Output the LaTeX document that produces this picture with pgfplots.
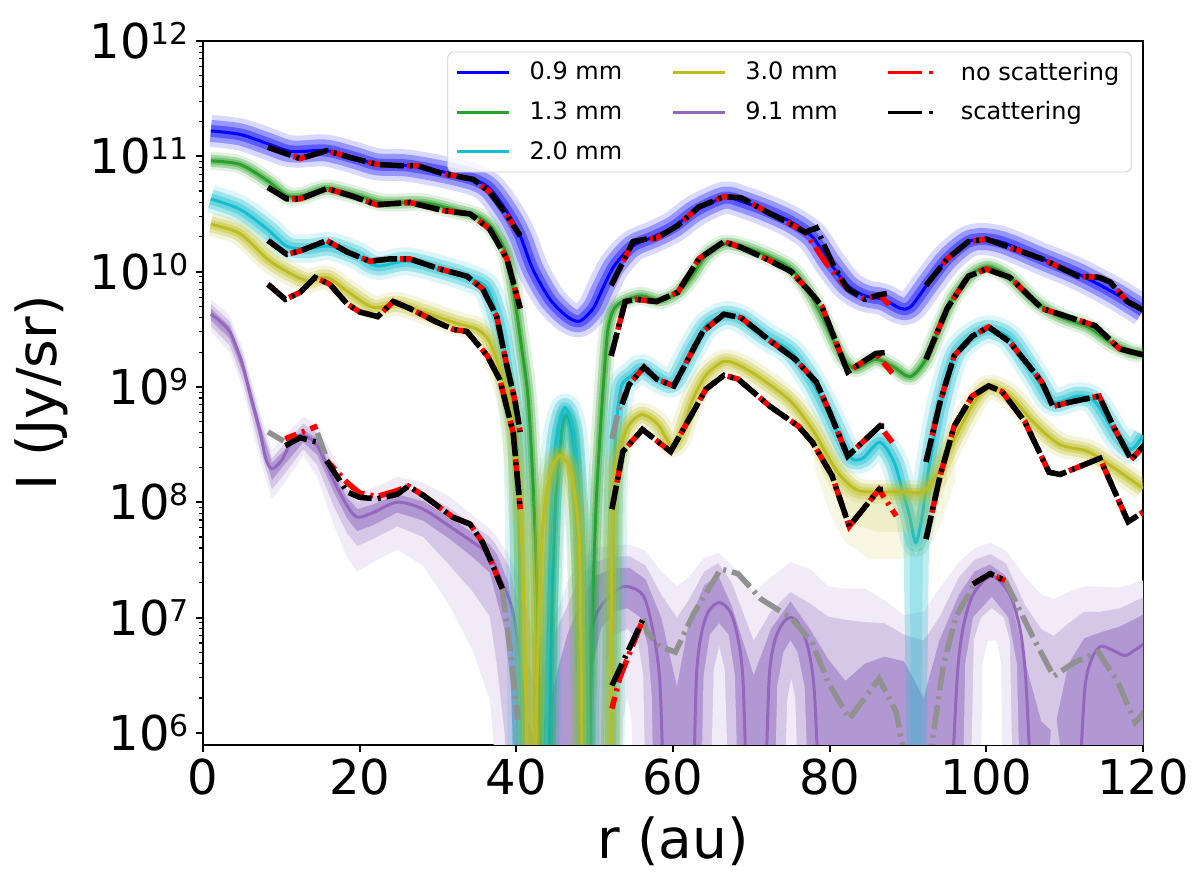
\documentclass[border=0pt]{standalone}
\usepackage{fontspec}
\setmainfont{DejaVu Sans}
\usepackage{pgfplots}
\pgfplotsset{compat=1.18}
\usepackage{pgfplotstable}
\definecolor{tabgreen}{RGB}{44,160,44}
\definecolor{tabcyan}{RGB}{23,190,207}
\definecolor{tabolive}{RGB}{188,189,34}
\definecolor{tabpurple}{RGB}{148,103,189}
\definecolor{pl3}{RGB}{240,235,246}
\definecolor{pl2}{RGB}{214,199,231}
\definecolor{pl1}{RGB}{178,152,211}
\definecolor{gdash}{RGB}{145,145,145}
\newcommand\tsup[1]{\raisebox{7pt}{\fontsize{15}{16}\selectfont #1}}
\newcommand\bandcurve[5]{%
 \addplot[#1, opacity=0.15, line width=#3, smooth, line join=round, forget plot] table {#2};
 \addplot[#1, opacity=0.3, line width=#4, smooth, line join=round, forget plot] table {#2};
 \addplot[#1, opacity=0.4, line width=#5, smooth, line join=round, forget plot] table {#2};
 \addplot[#1, line width=1.5pt, smooth, forget plot] table {#2};
}
\pgfplotsset{
 sc/.style={black, line width=2.75pt, dash pattern=on 12pt off 3pt on 1.5pt off 3pt, forget plot},
 nsc/.style={red, line width=2.75pt, dash pattern=on 12pt off 3pt on 1.5pt off 3pt, dash phase=6pt, forget plot},
 gsc/.style={gdash, line width=2.75pt, dash pattern=on 12pt off 3pt on 1.5pt off 3pt, forget plot},
}
% ---------------- smooth model curves ----------------
\pgfplotstableread{
x y
1.0 1.66e11
4.7 1.55e11
8.2 1.29e11
10.7 1.12e11
12.4 1.10e11
15.8 1.12e11
19.7 9.55e10
22.2 8.51e10
26.0 8.32e10
30.3 7.41e10
34.5 6.31e10
36.6 5.25e10
38.8 3.31e10
40.5 2.04e10
42.1 1.05e10
44.3 5.75e9
46.5 4.07e9
48.1 3.72e9
49.8 4.79e9
51.0 7.08e9
52.5 1.12e10
54.8 1.66e10
57.5 2.00e10
60.1 2.45e10
62.9 3.39e10
66.5 4.37e10
68.7 4.07e10
71.9 3.39e10
75.1 2.69e10
77.8 2.00e10
80.0 1.20e10
82.3 7.59e9
84.5 6.17e9
86.8 5.75e9
89.1 4.79e9
90.4 5.01e9
92.7 8.13e9
95.0 1.29e10
97.7 1.82e10
100.0 1.91e10
102.6 1.74e10
107.1 1.29e10
111.7 9.55e9
116.2 6.61e9
120.0 4.57e9
}\Bc
\pgfplotstableread{
x y
1.0 9.12e10
4.7 8.51e10
8.2 6.17e10
10.7 4.57e10
12.8 4.57e10
15.8 5.25e10
19.7 4.57e10
23.0 3.98e10
28.1 3.98e10
32.4 3.39e10
35.0 3.02e10
37.0 2.34e10
38.8 1.38e10
39.8 5.75e9
40.7 2.14e9
41.5 8.0e8
42.1 1.58e8
42.6 2.0e7
43.1 5.0e5
}\Gl
\pgfplotstableread{
x y
44.2 5.0e5
44.5 1.0e7
45.0 1.0e8
45.6 3.16e8
46.2 5.62e8
47.0 4.5e8
47.6 2.0e8
48.2 2.0e7
48.6 5.0e5
}\Ga
\pgfplotstableread{
x y
49.3 5.0e5
49.7 1.0e7
50.2 1.0e8
50.8 5.01e8
51.2 1.26e9
51.7 3.16e9
52.5 4.79e9
53.9 5.62e9
56.0 6.17e9
58.3 5.62e9
60.6 6.61e9
62.4 9.12e9
64.2 1.38e10
66.5 1.74e10
68.7 1.66e10
71.9 1.38e10
75.1 1.05e10
77.4 6.61e9
79.2 3.89e9
81.5 1.86e9
83.2 1.45e9
85.9 1.74e9
88.2 1.48e9
90.3 1.23e9
92.3 1.74e9
94.1 3.39e9
95.9 6.17e9
98.2 9.55e9
100.3 1.10e10
103.0 8.91e9
106.2 5.50e9
109.4 4.07e9
113.0 3.31e9
115.8 2.45e9
118.5 2.00e9
120.0 1.95e9
}\Gr
\pgfplotstableread{
x y
1.0 4.27e10
4.7 3.47e10
8.2 2.34e10
10.7 1.66e10
13.3 1.58e10
16.2 1.66e10
19.7 1.38e10
22.2 1.12e10
26.0 1.23e10
30.3 1.05e10
34.1 8.71e9
36.3 7.08e9
37.9 3.39e9
38.8 1.51e9
39.4 7.76e8
40.1 3.09e8
40.4 3.16e7
40.7 5.0e5
}\Cl
\pgfplotstableread{
x y
43.8 5.0e5
44.1 1.0e7
44.5 1.0e8
45.1 3.55e8
46.2 6.61e8
47.3 4.0e8
47.9 1.0e8
48.5 1.0e7
48.9 5.0e5
}\Ca
\pgfplotstableread{
x y
52.0 5.0e5
52.2 1.0e7
52.4 1.0e8
52.7 3.98e8
53.4 1.0e9
54.8 1.26e9
56.0 1.45e9
58.3 1.17e9
60.1 1.10e9
62.4 2.14e9
64.2 3.39e9
66.5 4.17e9
68.7 3.89e9
71.9 2.75e9
75.1 2.00e9
77.8 1.10e9
80.0 5.62e8
82.5 2.51e8
84.2 2.40e8
86.4 3.31e8
88.2 2.24e8
89.3 1.26e8
90.2 7.59e7
91.0 4.47e7
91.8 7.59e7
92.7 2.04e8
94.0 6.31e8
95.9 1.86e9
98.2 2.75e9
100.3 3.16e9
103.0 2.63e9
106.2 1.26e9
108.5 7.41e8
111.7 8.32e8
113.9 7.41e8
116.7 3.72e8
118.5 2.88e8
120.0 3.80e8
}\Cr
\pgfplotstableread{
x y
1.0 2.57e10
4.7 2.14e10
8.2 1.29e10
10.7 1.00e10
13.3 8.32e9
15.8 8.91e9
18.4 6.76e9
21.7 4.90e9
24.8 5.25e9
28.1 4.47e9
32.4 3.55e9
35.0 3.16e9
36.6 2.45e9
37.9 1.41e9
39.0 7.76e8
39.8 3.09e8
40.6 6.31e7
41.0 1.0e7
41.4 5.0e5
}\Yl
\pgfplotstableread{
x y
42.4 5.0e5
43.0 2.09e7
43.7 1.0e8
44.6 2.0e8
45.6 2.51e8
46.8 2.0e8
47.6 1.0e8
48.1 3.16e7
48.4 5.0e5
}\Ya
\pgfplotstableread{
x y
52.0 5.0e5
52.2 3.16e7
52.5 1.58e8
53.2 2.82e8
54.3 4.57e8
56.0 5.75e8
58.0 4.79e8
59.7 3.16e8
60.8 3.55e8
62.4 7.41e8
64.2 1.26e9
66.5 1.66e9
68.7 1.51e9
71.9 1.10e9
75.1 7.41e8
77.8 4.27e8
80.0 2.34e8
81.5 1.66e8
83.7 1.26e8
87.2 1.23e8
89.8 1.23e8
91.9 1.23e8
93.6 1.70e8
95.7 3.31e8
98.3 7.08e8
100.3 1.00e9
103.0 8.32e8
106.2 4.79e8
109.4 3.16e8
113.0 2.75e8
116.2 2.00e8
120.0 1.32e8
}\Yr
\pgfplotstableread{
x y
1.0 4.27e9
2.0 3.80e9
3.4 3.02e9
4.5 2.00e9
5.1 1.51e9
6.2 7.76e8
7.3 4.07e8
8.0 2.40e8
8.8 1.95e8
10.1 2.34e8
11.5 3.55e8
12.8 3.80e8
14.6 3.09e8
16.6 1.58e8
18.4 9.33e7
19.7 7.41e7
21.7 8.13e7
24.8 1.00e8
28.1 8.71e7
31.5 6.17e7
34.5 4.47e7
36.6 3.47e7
37.9 2.24e7
39.6 1.10e7
40.7 2.95e6
41.1 5.0e5
}\Pl
% ---------------- dash-dot (radiative transfer) curves ----------------
\pgfplotstableread{
x y
8.3 1.20e11
12.4 9.55e10
15.8 1.12e11
18.8 9.77e10
22.2 8.51e10
24.8 8.32e10
27.3 8.32e10
30.6 7.08e10
34.5 6.31e10
36.6 4.90e10
38.5 3.31e10
40.5 2.04e10
}\BdA
\pgfplotstableread{
x y
52.1 7.59e9
54.9 1.82e10
56.5 1.91e10
57.9 1.95e10
60.6 2.51e10
63.3 3.63e10
66.5 4.47e10
68.7 4.37e10
71.9 3.31e10
75.1 2.57e10
76.9 2.19e10
78.3 2.40e10
80.5 1.12e10
82.3 7.08e9
84.5 5.75e9
86.4 6.31e9
87.3 6.46e9
}\BdB
\pgfplotstableread{
x y
52.1 7.59e9
54.9 1.82e10
56.5 1.91e10
57.9 1.95e10
60.6 2.51e10
63.3 3.63e10
66.5 4.47e10
68.7 4.37e10
71.9 3.31e10
75.1 2.57e10
76.9 2.19e10
79.5 1.20e10
82.3 7.08e9
84.5 5.75e9
86.4 6.31e9
88.0 4.79e9
}\BdBr
\pgfplotstableread{
x y
92.3 7.59e9
95.0 1.29e10
97.7 1.82e10
100.0 1.91e10
102.6 1.66e10
107.1 1.29e10
111.7 9.12e9
114.4 8.91e9
115.8 8.13e9
118.0 5.50e9
120.5 4.47e9
}\BdC
\pgfplotstableread{
x y
8.3 5.37e10
10.7 4.27e10
12.4 4.27e10
15.8 5.25e10
18.8 4.57e10
22.2 3.80e10
26.4 3.98e10
30.6 3.39e10
34.1 3.16e10
36.6 2.34e10
38.8 1.29e10
40.5 4.79e9
}\GdA
\pgfplotstableread{
x y
52.1 1.86e9
53.9 5.50e9
55.2 5.75e9
57.9 5.50e9
60.6 6.61e9
63.3 1.29e10
66.5 1.82e10
68.7 1.62e10
71.9 1.29e10
75.1 1.00e10
77.8 6.31e9
79.0 5.01e9
82.3 1.35e9
85.9 1.95e9
87.5 2.00e9
}\GdB
\pgfplotstableread{
x y
52.1 1.86e9
53.9 5.50e9
55.2 5.75e9
57.9 5.50e9
60.6 6.61e9
63.3 1.29e10
66.5 1.82e10
68.7 1.62e10
71.9 1.29e10
75.1 1.00e10
77.8 6.31e9
79.0 5.01e9
82.3 1.35e9
85.9 1.95e9
88.0 1.32e9
}\GdBr
\pgfplotstableread{
x y
92.3 1.74e9
95.0 4.79e9
97.7 9.12e9
100.0 1.05e10
103.0 8.91e9
107.1 4.79e9
111.2 3.89e9
113.9 3.39e9
117.0 2.14e9
120.5 1.86e9
}\GdC
\pgfplotstableread{
x y
8.3 1.86e10
10.7 1.41e10
12.4 1.51e10
15.8 1.86e10
18.4 1.48e10
21.3 1.23e10
23.9 1.29e10
26.4 1.29e10
30.3 1.05e10
33.7 9.12e9
35.7 7.08e9
37.5 4.07e9
38.8 1.51e9
39.8 7.76e8
40.5 4.07e8
}\CdA
\pgfplotstableread{
x y
53.5 7.08e8
54.4 1.05e9
56.3 1.48e9
57.9 1.17e9
60.1 1.02e9
63.8 3.02e9
66.5 4.27e9
68.7 3.98e9
72.4 2.51e9
75.6 1.74e9
78.3 1.10e9
80.0 6.03e8
82.3 2.51e8
86.4 4.57e8
87.0 4.57e8
}\CdB
\pgfplotstableread{
x y
53.5 7.08e8
54.4 1.05e9
56.3 1.48e9
57.9 1.17e9
60.1 1.02e9
63.8 3.02e9
66.5 4.27e9
68.7 3.98e9
72.4 2.51e9
75.6 1.74e9
78.3 1.10e9
80.0 6.03e8
82.3 2.51e8
86.4 4.57e8
88.0 3.31e8
}\CdBr
\pgfplotstableread{
x y
92.3 2.24e8
94.1 7.41e8
95.9 1.86e9
98.2 2.75e9
100.3 3.31e9
103.0 2.45e9
107.1 1.10e9
108.5 6.76e8
110.8 7.41e8
114.4 8.32e8
116.2 4.57e8
118.5 2.34e8
120.5 3.31e8
}\CdC
\pgfplotstableread{
x y
8.3 7.76e9
10.5 5.75e9
12.4 6.61e9
14.3 8.91e9
16.2 7.76e9
18.4 5.25e9
20.0 4.47e9
22.3 4.07e9
24.3 5.50e9
26.4 4.79e9
29.9 3.63e9
31.9 3.16e9
33.7 3.02e9
36.3 1.86e9
37.9 1.15e9
39.6 4.0e8
40.5 8.71e7
}\YdA
\pgfplotstableread{
x y
52.2 8.71e7
53.6 2.75e8
56.1 4.27e8
59.7 2.75e8
62.8 6.46e8
64.2 9.55e8
66.5 1.26e9
68.3 1.17e9
72.4 6.76e8
76.0 4.57e8
77.8 3.31e8
80.3 1.70e8
82.5 6.17e7
86.3 1.29e8
86.8 1.29e8
}\YdB
\pgfplotstableread{
x y
52.2 8.71e7
53.6 2.75e8
56.1 4.27e8
59.7 2.75e8
62.8 6.46e8
64.2 9.55e8
66.5 1.26e9
68.3 1.17e9
72.4 6.76e8
76.0 4.57e8
77.8 3.31e8
80.3 1.70e8
82.5 6.17e7
86.3 1.29e8
88.5 7.59e7
}\YdBr
\pgfplotstableread{
x y
92.3 4.79e7
94.1 1.70e8
95.9 4.57e8
98.2 8.32e8
100.3 1.02e9
102.0 9.12e8
104.9 5.01e8
108.0 1.82e8
109.4 1.74e8
114.5 2.40e8
118.1 6.76e7
120.6 8.71e7
}\YdC
\begin{document}
\begin{tikzpicture}
\useasboundingbox (-101.5pt,-67.5pt) rectangle (498.5pt,372.5pt);
\begin{axis}[
 at={(0pt,0pt)}, anchor=south west,
 width=470pt, height=352pt, scale only axis,
 xmin=0, xmax=120, ymin=7.84e5, ymax=1e12,
 ymode=log,
 axis line style={line width=1pt},
 tick align=outside, tick pos=left,
 major tick length=3.5pt, minor tick length=2pt,
 every tick/.style={black, line width=1pt},
 minor tick style={line width=0.6pt},
 xtick={0,20,40,60,80,100,120},
 xticklabels={0,20,40,60,80,100,120},
 ytick={1e6,1e7,1e8,1e9,1e10,1e11,1e12},
 yticklabels={10\tsup{6},10\tsup{7},10\tsup{8},10\tsup{9},10\tsup{10},10\tsup{11},10\tsup{12}},
 tick label style={font=\fontsize{24}{28}\selectfont},
 xlabel={r (au)}, ylabel={I (Jy/sr)},
 label style={font=\fontsize{27.5}{32}\selectfont},
 xlabel style={at={(axis description cs:0.5,-0.1364)}, anchor=center},
 ylabel style={at={(axis description cs:-0.1718,0.5)}, anchor=center},
 legend columns=3,
 legend cell align=left,
 legend style={at={(axis description cs:0.988,0.985)}, anchor=north east,
   font=\fontsize{12}{14}\selectfont, draw=black!20, rounded corners=3pt,
   fill=white, fill opacity=0.8, text opacity=1, inner xsep=4pt, inner ysep=3pt,
   row sep=5.2pt,
   /tikz/every odd column/.append style={column sep=7.5pt},
   /tikz/every even column/.append style={column sep=22.5pt}},
 legend image code/.code={\draw[line width=1.5pt,#1] (0pt,0pt) -- (26pt,0pt);},
]
% ===== 9.1 mm uncertainty bands (opaque layers) =====
\addplot[fill=pl3, draw=none, forget plot] coordinates {
(1.0,5.75e9)(3.4,4.17e9)(5.1,2.14e9)(7.3,6.03e8)(8.8,2.82e8)(10.1,3.55e8)(12.8,5.50e8)(14.6,4.68e8)(16.6,2.51e8)(18.4,1.51e8)(19.7,1.23e8)(21.7,1.32e8)(24.8,1.66e8)(28.1,1.48e8)(31.5,1.12e8)(34.5,7.59e7)(36.6,5.89e7)(37.5,5.01e7)(39.0,3.55e7)(40.5,2.0e7)(41.5,1.0e7)(42.5,6.31e6)(44.0,7.94e6)(45.5,1.26e7)(46.5,2.0e7)(48.0,3.16e7)(50.0,3.98e7)(52.5,4.27e7)(54.5,4.27e7)(56.5,3.80e7)(58.5,2.51e7)(60.5,1.86e7)(62.0,2.24e7)(64.0,3.31e7)(65.8,3.63e7)(67.5,2.82e7)(70.3,1.66e7)(72.5,2.24e7)(75.0,3.02e7)(77.5,2.63e7)(79.8,1.86e7)(82.0,1.78e7)(84.5,1.78e7)(87.0,1.41e7)(89.5,1.05e7)(92.0,1.12e7)(94.0,1.78e7)(96.5,3.02e7)(98.5,3.98e7)(100.5,4.47e7)(102.5,3.80e7)(105.0,2.24e7)(107.0,1.58e7)(108.6,1.45e7)(110.5,1.66e7)(112.5,1.86e7)(114.5,1.86e7)(117.0,1.82e7)(120.5,2.14e7)
(120.5,3e5)(37.5,3e5)(37.0,1.0e6)(36.6,1.95e6)(34.5,5.01e6)(31.5,1.26e7)(28.1,2.82e7)(24.8,3.89e7)(21.7,3.02e7)(19.7,2.51e7)(18.4,3.31e7)(16.6,6.61e7)(14.6,1.66e8)(12.8,2.51e8)(10.1,1.38e8)(8.8,1.07e8)(7.3,2.29e8)(5.1,9.55e8)(3.4,2.0e9)(1.0,3.02e9)} --cycle;
\addplot[fill=pl2, draw=none, forget plot] coordinates {
(1.0,5.25e9)(3.4,3.72e9)(5.1,1.91e9)(7.3,5.25e8)(8.8,2.40e8)(10.1,3.02e8)(12.8,4.79e8)(14.6,3.98e8)(16.6,2.09e8)(18.4,1.26e8)(19.7,1.0e8)(21.7,1.10e8)(24.8,1.35e8)(28.1,1.20e8)(31.5,8.91e7)(34.5,6.31e7)(36.6,5.01e7)(37.5,4.17e7)(39.0,2.82e7)(40.5,1.12e7)(41.5,3.98e6)(42.5,2.51e6)(44.0,5.01e6)(45.5,8.91e6)(46.5,1.26e7)(48.0,2.24e7)(50.0,3.02e7)(52.5,3.39e7)(54.5,3.39e7)(56.5,2.82e7)(58.5,1.58e7)(60.5,1.0e7)(62.0,1.41e7)(64.0,2.51e7)(65.8,2.95e7)(67.5,2.0e7)(70.3,6.31e6)(72.5,1.12e7)(75.0,1.66e7)(77.5,1.32e7)(79.8,1.02e7)(82.0,9.55e6)(84.5,9.12e6)(87.0,8.91e6)(89.5,7.08e6)(92.0,6.31e6)(94.0,1.0e7)(96.5,2.24e7)(98.5,3.16e7)(100.5,3.55e7)(102.5,2.95e7)(105.0,1.26e7)(107.0,7.94e6)(108.6,6.92e6)(110.5,8.91e6)(112.5,1.12e7)(114.5,1.12e7)(117.0,1.20e7)(120.5,1.55e7)
(120.5,3e5)(38.9,3e5)(38.5,1.0e6)(37.5,3.98e6)(36.6,1.02e7)(34.5,1.66e7)(31.5,2.82e7)(28.1,5.01e7)(24.8,6.17e7)(21.7,4.79e7)(19.7,4.17e7)(18.4,5.37e7)(16.6,9.55e7)(14.6,2.09e8)(12.8,2.88e8)(10.1,1.66e8)(8.8,1.29e8)(7.3,2.82e8)(5.1,1.12e9)(3.4,2.29e9)(1.0,3.39e9)} --cycle;
\addplot[fill=pl1, draw=none, forget plot] coordinates {
(1.0,4.79e9)(3.4,3.39e9)(5.1,1.70e9)(7.3,4.68e8)(8.8,2.19e8)(10.1,2.69e8)(12.8,4.27e8)(14.6,3.55e8)(16.6,1.82e8)(18.4,1.10e8)(19.7,8.71e7)(21.7,9.55e7)(24.8,1.17e8)(28.1,1.02e8)(31.5,7.41e7)(34.5,5.37e7)(36.6,4.27e7)(37.5,3.55e7)(39.0,2.0e7)(40.5,3.98e6)(41.5,1.26e6)(42.5,7.94e5)(44.0,1.58e6)(45.5,3.98e6)(46.5,7.08e6)(48.0,1.26e7)(50.0,2.29e7)(52.5,2.69e7)(54.5,2.69e7)(56.5,2.14e7)(58.5,1.0e7)(60.5,2.51e6)(62.0,8.91e6)(64.0,1.91e7)(65.8,2.29e7)(67.5,1.26e7)(70.3,3.16e6)(72.5,7.94e6)(75.0,1.38e7)(77.5,7.94e6)(79.8,4.37e6)(82.0,2.82e6)(84.5,3.98e6)(87.0,4.57e6)(89.5,4.17e6)(92.0,2.0e6)(94.0,6.31e6)(96.5,1.58e7)(98.5,2.51e7)(100.5,2.88e7)(102.5,2.29e7)(105.0,3.98e6)(107.0,1.26e6)(108.6,1.0e6)(110.5,3.98e6)(112.5,6.61e6)(114.5,7.41e6)(117.0,8.32e6)(120.5,1.10e7)
(120.5,3e5)(39.8,3e5)(39.3,2.51e6)(38.5,7.94e6)(36.6,2.45e7)(34.5,3.31e7)(31.5,4.79e7)(28.1,6.92e7)(24.8,8.13e7)(21.7,6.31e7)(19.7,5.62e7)(18.4,7.24e7)(16.6,1.26e8)(14.6,2.57e8)(12.8,3.31e8)(10.1,2.0e8)(8.8,1.55e8)(7.3,3.39e8)(5.1,1.32e9)(3.4,2.63e9)(1.0,3.80e9)} --cycle;
% holes under the arches
\addplot[fill=pl2, draw=none, forget plot] coordinates {(49.5,3e5)(49.8,3.98e6)(50.8,7.94e6)(52.5,1.12e7)(54.2,1.20e7)(55.8,1.0e7)(56.8,5.62e6)(57.3,2.0e6)(57.5,3e5)} --cycle;
\addplot[fill=pl2, draw=none, forget plot] coordinates {(63.6,3e5)(63.9,3.16e6)(64.7,7.08e6)(65.9,8.91e6)(67.1,7.08e6)(67.9,3.16e6)(68.3,3e5)} --cycle;
\addplot[fill=pl2, draw=none, forget plot] coordinates {(73.0,3e5)(73.3,2.51e6)(74.1,5.01e6)(75.0,6.31e6)(75.9,5.01e6)(76.8,2.51e6)(77.3,3e5)} --cycle;
\addplot[fill=pl2, draw=none, forget plot] coordinates {(97.0,3e5)(97.3,3.98e6)(98.3,1.0e7)(100.7,1.51e7)(102.8,1.0e7)(103.9,3.98e6)(104.3,3e5)} --cycle;
\addplot[fill=pl2, draw=none, forget plot] coordinates {(107.6,3e5)(108.6,2.0e6)(110.2,3e5)} --cycle;
\addplot[fill=pl3, draw=none, forget plot] coordinates {(51.0,3e5)(51.5,3.98e6)(52.5,7.08e6)(54.2,7.94e6)(55.5,6.31e6)(56.2,3.16e6)(56.5,3e5)} --cycle;
\addplot[fill=pl3, draw=none, forget plot] coordinates {(64.8,3e5)(65.2,3.55e6)(65.9,5.62e6)(66.6,3.55e6)(67.1,3e5)} --cycle;
\addplot[fill=pl3, draw=none, forget plot] coordinates {(74.2,3e5)(74.6,2.0e6)(75.1,2.95e6)(75.6,2.0e6)(76.0,3e5)} --cycle;
\addplot[fill=pl3, draw=none, forget plot] coordinates {(98.0,3e5)(98.4,6.31e6)(99.3,1.0e7)(100.7,1.20e7)(102.2,1.0e7)(103.0,6.31e6)(103.4,3e5)} --cycle;
\addplot[fill=white, draw=none, forget plot] coordinates {(53.4,3e5)(53.6,1.26e6)(54.2,2.0e6)(54.7,1.26e6)(54.9,3e5)} --cycle;
\addplot[fill=white, draw=none, forget plot] coordinates {(99.3,3e5)(99.5,3.98e6)(100.2,6.31e6)(101.3,6.31e6)(101.9,3.98e6)(102.1,3e5)} --cycle;
% 9.1 mm model lines
\addplot[tabpurple, line width=1.5pt, smooth, forget plot] table {\Pl};
\addplot[tabpurple, line width=1.5pt, smooth, forget plot] coordinates {(48.1,5e5)(48.6,3.16e6)(49.0,5.62e6)(50.3,1.10e7)(52.4,1.66e7)(54.1,1.86e7)(56.2,1.55e7)(57.4,7.94e6)(58.3,2.95e6)(58.7,5e5)};
\addplot[tabpurple, line width=1.5pt, smooth, forget plot] coordinates {(62.7,5e5)(63.0,3.16e6)(63.6,7.08e6)(64.5,1.12e7)(65.9,1.35e7)(67.3,1.12e7)(68.2,7.08e6)(68.9,3.16e6)(69.3,5e5)};
\addplot[tabpurple, line width=1.5pt, smooth, forget plot] coordinates {(71.9,5e5)(72.3,3.16e6)(73.0,6.31e6)(74.0,8.91e6)(75.0,1.0e7)(76.0,8.91e6)(77.2,5.62e6)(78.0,2.51e6)(78.5,5e5)};
\addplot[tabpurple, line width=1.5pt, smooth, forget plot] coordinates {(95.7,5e5)(96.3,3.16e6)(97.0,7.94e6)(98.3,1.58e7)(100.7,2.29e7)(103.0,1.58e7)(104.3,7.94e6)(105.0,3.16e6)(105.6,5e5)};
\addplot[tabpurple, line width=1.5pt, smooth, forget plot] coordinates {(112.0,5e5)(112.6,2.51e6)(113.5,4.47e6)(114.6,5.62e6)(116.0,5.25e6)(117.7,4.68e6)(119.0,5.25e6)(120.5,6.17e6)};
% ===== other wavelengths: bands + lines =====
\bandcurve{blue}{\Bc}{16pt}{11pt}{6pt}
\bandcurve{tabgreen}{\Gl}{9pt}{6pt}{3.5pt}
\bandcurve{tabgreen}{\Ga}{9pt}{6pt}{3.5pt}
\bandcurve{tabgreen}{\Gr}{9pt}{6pt}{3.5pt}
\bandcurve{tabcyan}{\Cl}{14pt}{9.5pt}{5.5pt}
\bandcurve{tabcyan}{\Ca}{14pt}{9.5pt}{5.5pt}
\bandcurve{tabcyan}{\Cr}{14pt}{9.5pt}{5.5pt}
\addplot[fill=tabcyan, fill opacity=0.28, draw=none, forget plot] coordinates {(89.4,6e7)(89.9,3e5)(92.3,3e5)(92.7,6e7)(91.0,3.5e7)} --cycle;
\addplot[fill=tabcyan, fill opacity=0.2, draw=none, forget plot] coordinates {(90.2,4e7)(90.5,3e5)(91.6,3e5)(91.9,4e7)} --cycle;
\addplot[fill=tabolive, fill opacity=0.12, draw=none, forget plot] coordinates {(78,4.0e8)(80,2.0e8)(82,1.3e8)(85,1.1e8)(89,1.1e8)(92,1.1e8)(94,1.6e8)(96,3.5e8)(96,1.5e8)(94,6e7)(92,3.5e7)(89,3.2e7)(85,3.2e7)(82,4.5e7)(80,8e7)(78,2e8)} --cycle;
\addplot[fill=tabolive, fill opacity=0.15, draw=none, forget plot] coordinates {(79,3.0e8)(81,1.6e8)(84,1.2e8)(89,1.2e8)(92,1.2e8)(94,1.7e8)(95,2.6e8)(95,1.5e8)(93,7e7)(90,5.5e7)(86,5.5e7)(83,6.5e7)(81,1e8)(79,1.8e8)} --cycle;
\bandcurve{tabolive}{\Yl}{12pt}{8pt}{4.5pt}
\bandcurve{tabolive}{\Ya}{12pt}{8pt}{4.5pt}
\bandcurve{tabolive}{\Yr}{12pt}{8pt}{4.5pt}
% ===== dash-dot curves =====
\addplot[gsc] coordinates {(8.3,4.07e8)(10.3,3.39e8)};
\addplot[gsc] coordinates {(14.6,3.98e8)(15.6,2.6e8)};
\addplot[gsc] coordinates {(38.2,1.78e7)(39.2,5.37e6)(40.2,1.3e6)};
\addplot[gsc] coordinates {(52.2,3.55e8)(53.6,8.91e8)};
\addplot[gsc] coordinates {(56.2,9.77e6)(56.7,7.41e6)(58.3,5.62e6)(60.3,5.01e6)(62.7,1.10e7)(66.1,2.63e7)(68.3,2.40e7)(71.2,1.45e7)(75.0,1.0e7)(77.7,6.17e6)(79.8,2.75e6)(82.5,1.32e6)(86.3,2.95e6)(88.5,1.51e6)(89.8,5.0e5)};
\addplot[gsc] coordinates {(92.6,5.0e5)(94.5,3.80e6)(96.1,1.02e7)(98.3,1.86e7)};
\addplot[gsc] coordinates {(102.4,2.09e7)(106.1,6.46e6)(108.6,3.09e6)(111.2,4.07e6)(114.3,5.01e6)(116.8,2.75e6)(119.0,1.23e6)(120.6,1.62e6)};
% no scattering (red)
\addplot[nsc] table {\BdA};
\addplot[nsc] table {\BdBr};
\addplot[nsc] table {\BdC};
\addplot[nsc] table {\GdA};
\addplot[nsc] table {\GdBr};
\addplot[nsc] table {\GdC};
\addplot[nsc] table {\CdA};
\addplot[nsc] table {\CdBr};
\addplot[nsc] table {\CdC};
\addplot[nsc] table {\YdA};
\addplot[nsc] table {\YdBr};
\addplot[nsc] table {\YdC};
\addplot[nsc] coordinates {(10.5,3.55e8)(14.6,4.57e8)};
\addplot[nsc] coordinates {(15.8,2.29e8)(18.4,1.48e8)(20.0,1.20e8)(22.2,1.12e8)(24.8,1.26e8)(26.2,1.38e8)(28.1,1.15e8)(31.9,7.41e7)(34.1,6.46e7)(35.7,4.47e7)(37.0,2.82e7)(38.2,1.78e7)};
\addplot[nsc] coordinates {(52.2,1.62e6)(53.2,3.0e6)(56.2,9.77e6)};
\addplot[nsc] coordinates {(98.3,1.95e7)(100.5,2.40e7)(102.4,2.09e7)};
% scattering (black)
\addplot[sc] table {\BdA};
\addplot[sc] table {\BdB};
\addplot[sc] table {\BdC};
\addplot[sc] table {\GdA};
\addplot[sc] table {\GdB};
\addplot[sc] table {\GdC};
\addplot[sc] table {\CdA};
\addplot[sc] table {\CdB};
\addplot[sc] table {\CdC};
\addplot[sc] table {\YdA};
\addplot[sc] table {\YdB};
\addplot[sc] table {\YdC};
\addplot[sc] coordinates {(10.5,3.09e8)(12.4,3.63e8)(14.6,3.31e8)};
\addplot[sc] coordinates {(15.8,2.29e8)(18.4,1.23e8)(20.0,1.10e8)(22.2,1.07e8)(24.8,1.17e8)(26.2,1.38e8)(28.1,1.15e8)(31.9,7.41e7)(34.1,6.46e7)(35.7,4.47e7)(37.0,2.82e7)(38.2,1.78e7)};
\addplot[sc] coordinates {(52.2,2.57e6)(56.2,9.77e6)};
\addplot[sc] coordinates {(98.3,1.95e7)(100.5,2.40e7)(102.4,2.09e7)};
% ===== legend (column-major order as in the original) =====
\addlegendimage{blue}\addlegendentry{0.9 mm}
\addlegendimage{tabolive}\addlegendentry{3.0 mm}
\addlegendimage{red, line width=2.75pt, dash pattern=on 17pt off 3.5pt on 2pt off 20pt}\addlegendentry{no scattering}
\addlegendimage{tabgreen}\addlegendentry{1.3 mm}
\addlegendimage{tabpurple}\addlegendentry{9.1 mm}
\addlegendimage{black, line width=2.75pt, dash pattern=on 17pt off 3.5pt on 2pt off 20pt}\addlegendentry{scattering}
\addlegendimage{tabcyan}\addlegendentry{2.0 mm}
\end{axis}
\end{tikzpicture}
\end{document}
